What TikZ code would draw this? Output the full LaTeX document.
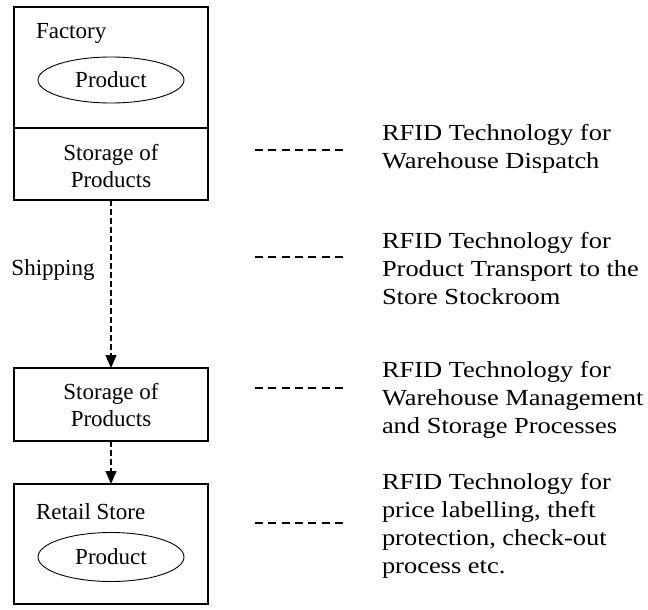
\documentclass[tikz,border=0pt]{standalone}
\usepackage{fontspec}
\setmainfont{Liberation Serif}
\newfontfamily\rfont[FakeStretch=1.15]{Liberation Serif}
\usetikzlibrary{arrows.meta,shapes.geometric}
\begin{document}
\begin{tikzpicture}[x=1pt,y=-1pt,
  every node/.style={inner sep=0pt, outer sep=0pt},
  box/.style={draw, line width=1.2pt, minimum width=194pt},
  lbl/.style={font=\fontsize{23}{27}\selectfont, align=center},
  oval/.style={draw, ellipse, line width=0.9pt, minimum width=146pt, minimum height=46pt, font=\fontsize{23}{27}\selectfont},
  rtext/.style={font=\rfont\fontsize{23}{28}\selectfont, align=left, anchor=west},
  flow/.style={line width=1.2pt, dash pattern=on 6pt off 3pt, -{Triangle[length=13pt,width=11pt]}},
  sep/.style={line width=1.2pt, dash pattern=on 8pt off 5.3pt}]
\useasboundingbox (0,0) rectangle (648,610);
% left column
\node[box, minimum height=121pt] (factory) at (111,67.5) {};
\node[box, minimum height=72pt] (storage1) at (111,164) {};
\node[lbl, anchor=west] (factorylbl) at (36,33) {Factory};
\node[oval] (prod1) at (111,80) {Product};
\node[lbl] (st1lbl) at (111,166) {Storage of\\Products};
\node[box, minimum height=73pt] (storage2) at (111,404.5) {};
\node[lbl] (st2lbl) at (111,405) {Storage of\\Products};
\node[box, minimum height=120pt] (retail) at (111,544) {};
\node[lbl, anchor=west] (retaillbl) at (36,512) {Retail Store};
\node[oval, minimum height=49pt] (prod2) at (111,557) {Product};
\draw[flow] (storage1.south) -- (storage2.north);
\draw[flow] (storage2.south) -- (retail.north);
\node[lbl] (shipping) at (53,270) {Shipping};
% right column
\node[rtext] (r1) at (382,149) {RFID Technology for\\Warehouse Dispatch};
\node[rtext] (r2) at (382,269) {RFID Technology for\\Product Transport to the\\Store Stockroom};
\node[rtext] (r3) at (382,400) {RFID Technology for\\Warehouse Management\\and Storage Processes};
\node[rtext] (r4) at (382,526) {RFID Technology for\\price labelling, theft\\protection, check-out\\process etc.};
\coordinate (d1a) at (255,150); \coordinate (d1b) at (348,150);
\coordinate (d2a) at (255,257); \coordinate (d2b) at (348,257);
\coordinate (d3a) at (255,388); \coordinate (d3b) at (348,388);
\coordinate (d4a) at (255,523); \coordinate (d4b) at (348,523);
\draw[sep] (d1a) -- (d1b);
\draw[sep] (d2a) -- (d2b);
\draw[sep] (d3a) -- (d3b);
\draw[sep] (d4a) -- (d4b);
\end{tikzpicture}
\end{document}
